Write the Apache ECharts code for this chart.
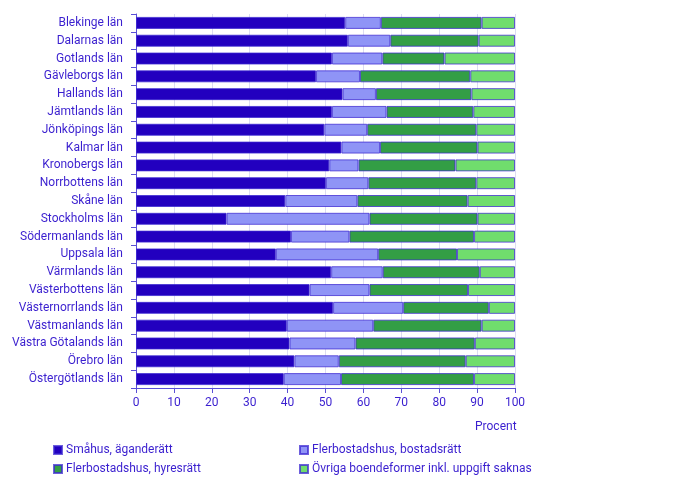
<!DOCTYPE html>
<html>
<head>
<meta charset="utf-8">
<script src="https://cdn.jsdelivr.net/npm/echarts@6/dist/echarts.min.js"></script>
<style>html,body{margin:0;padding:0;background:#fff}#c{width:699px;height:481px}</style>
</head>
<body>
<div id="c"></div>
<script>
var categories = ['Blekinge län','Dalarnas län','Gotlands län','Gävleborgs län','Hallands län','Jämtlands län','Jönköpings län','Kalmar län','Kronobergs län','Norrbottens län','Skåne län','Stockholms län','Södermanlands län','Uppsala län','Värmlands län','Västerbottens län','Västernorrlands län','Västmanlands län','Västra Götalands län','Örebro län','Östergötlands län'];
var smahus = [55.2,55.9,51.7,47.5,54.5,51.7,49.7,54.2,51.0,50.1,39.4,23.9,40.9,36.9,51.5,45.8,52.0,39.8,40.5,41.8,39.0];
var bostadsratt = [9.4,11.2,13.3,11.6,8.8,14.4,11.3,10.2,7.7,11.2,19.0,37.7,15.4,27.0,13.6,15.8,18.5,22.8,17.4,11.7,15.1];
var hyresratt = [26.6,23.3,16.4,29.1,25.2,22.9,28.8,25.7,25.6,28.5,29.1,28.5,32.9,20.8,25.6,26.0,22.6,28.6,31.5,33.5,35.1];
var ovriga = [8.8,9.6,18.6,11.8,11.5,11.0,10.2,9.9,15.7,10.2,12.5,9.9,10.8,15.3,9.3,12.4,6.9,8.8,10.6,13.0,10.8];
var seriesNames = ['Småhus, äganderätt','Flerbostadshus, bostadsrätt','Flerbostadshus, hyresrätt','Övriga boendeformer inkl. uppgift saknas'];
var xTicks = [0,10,20,30,40,50,60,70,80,90,100];

var txt = '#3a1fcf';
var colors = ['#2200bf','#8f94f6','#339e45','#70dd6d'];
var font = 'Roboto';
var chart = echarts.init(document.getElementById('c'), null, {renderer:'canvas'});
var dataSets = [smahus, bostadsratt, hyresratt, ovriga];
var series = dataSets.map(function(d,i){
  return {
    name: seriesNames[i], type:'bar', stack:'total', data:d, barWidth:12,
    itemStyle:{color:colors[i], borderColor:'rgba(60,40,210,0.75)', borderWidth:1},
    emphasis:{disabled:true}
  };
});
function leg(i, left, top){
  return {data:[seriesNames[i]], left:left, top:top, itemWidth:8, itemHeight:8, itemGap:0,
    icon:'rect', textStyle:{color:txt, fontSize:12, fontFamily:font, padding:[0,0,0,-1]},
    selectedMode:false};
}
chart.setOption({
  animation:false,
  color:colors,
  grid:{left:136, right:184, top:14, height:374},
  legend:[leg(0,48,439), leg(1,294,439), leg(2,48,458), leg(3,294,458)],
  xAxis:{type:'value', min:0, max:100, interval:10,
    axisLine:{show:true, lineStyle:{color:'#5a4fd6'}},
    axisTick:{show:true, length:5, lineStyle:{color:'#5a4fd6'}},
    axisLabel:{color:txt, fontSize:12, fontFamily:font, margin:9,
      formatter:function(v){ return xTicks.indexOf(v)>=0 ? String(v) : ''; }},
    splitLine:{show:true, lineStyle:{color:'#dcdcf2'}}
  },
  yAxis:{type:'category', data:categories, inverse:true,
    axisLine:{show:true, lineStyle:{color:'#5a4fd6'}},
    axisTick:{show:true, length:5, lineStyle:{color:'#5a4fd6'}},
    axisLabel:{color:txt, fontSize:12, fontFamily:font, margin:13}
  },
  graphic:[{type:'text', left:475, top:421, style:{text:'Procent', fill:txt, font:'12px Roboto'}}],
  series:series
});
</script>
</body>
</html>
